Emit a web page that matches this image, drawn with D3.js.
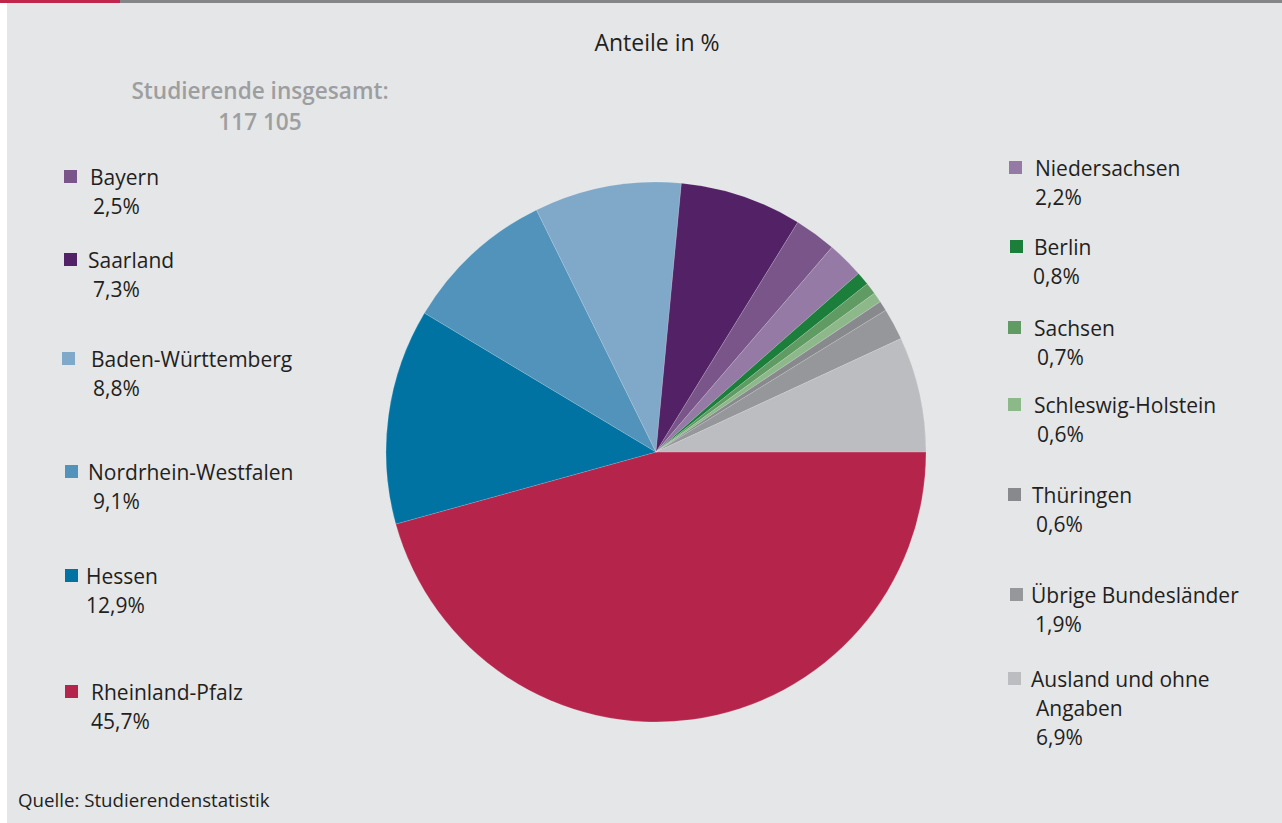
<!DOCTYPE html>
<meta charset="utf-8">
<html>
<style>
  body { margin: 0; background: #fff; }
  svg { display: block; }
  .lbl { font-family: "Open Sans", sans-serif; font-size: 21px; fill: #231f20; }
</style>
<body>
<svg width="1282" height="823"></svg>
<script src="https://d3js.org/d3.v7.min.js"></script>
<script>

// data, clockwise from 3 o'clock
var states = ["Rheinland-Pfalz", "Hessen", "Nordrhein-Westfalen", "Baden-Württemberg", "Saarland", "Bayern",
              "Niedersachsen", "Berlin", "Sachsen", "Schleswig-Holstein", "Thüringen", "Übrige Bundesländer", "Ausland und ohne Angaben"];
var shares = [45.7, 12.9, 9.1, 8.8, 7.3, 2.5, 2.2, 0.8, 0.7, 0.6, 0.6, 1.9, 6.9];
var colors = ["#b5244a", "#0073a3", "#5193ba", "#7fa8c9", "#532166", "#7a5589",
              "#957aa6", "#1b7e3a", "#5f9b62", "#8db88a", "#88898c", "#96979a", "#bcbdc0"];

var total = "117 105";

// legend layout (index into states, x of square, text x, value x, y)
var leftLegend = [
  {i: 5, sx: 64, tx: 90, vx: 93, y: 177},
  {i: 4, sx: 64, tx: 88, vx: 93, y: 260},
  {i: 3, sx: 62, tx: 91, vx: 93, y: 359},
  {i: 2, sx: 65, tx: 88, vx: 93, y: 472},
  {i: 1, sx: 65, tx: 86, vx: 86, y: 576},
  {i: 0, sx: 65, tx: 91, vx: 91, y: 692}
];
var rightLegend = [
  {i: 6, sx: 1009, tx: 1035, vx: 1035, y: 168},
  {i: 7, sx: 1010, tx: 1034, vx: 1033, y: 247},
  {i: 8, sx: 1008, tx: 1034, vx: 1037, y: 328},
  {i: 9, sx: 1008, tx: 1034, vx: 1037, y: 405},
  {i: 10, sx: 1008, tx: 1032, vx: 1036, y: 495},
  {i: 11, sx: 1010, tx: 1031, vx: 1035, y: 595},
  {i: 12, sx: 1008, tx: 1031, vx: 1036, y: 679, lines: ["Ausland und ohne", "Angaben"]}
];

var svg = d3.select("svg");

// panel
svg.append("rect").attr("x", 7).attr("y", 0).attr("width", 1275).attr("height", 823).attr("fill", "#e5e6e8");
svg.append("rect").attr("x", 0).attr("y", 0).attr("width", 1282).attr("height", 3).attr("fill", "#858688");
svg.append("rect").attr("x", 0).attr("y", 0).attr("width", 120).attr("height", 3).attr("fill", "#c0264c");

svg.append("text").attr("class", "lbl")
    .attr("x", 657).attr("y", 51).attr("text-anchor", "middle")
    .style("font-size", "23px")
    .text("Anteile in %");

var tot = svg.append("text").attr("text-anchor", "middle")
    .style("font-family", "'Open Sans', sans-serif").style("font-size", "22.6px")
    .style("font-weight", 600).attr("fill", "#9d9ea0");
tot.append("tspan").attr("x", 260).attr("y", 99).text("Studierende insgesamt:");
tot.append("tspan").attr("x", 260).attr("y", 130).text(total);

// pie
var cx = 656, cy = 452, r = 270;
var pie = d3.pie().sort(null).value(function(d) { return d; })
    .startAngle(Math.PI / 2).endAngle(Math.PI / 2 + 2 * Math.PI);
var arc = d3.arc().innerRadius(0).outerRadius(r);

svg.append("g").attr("transform", "translate(" + cx + "," + cy + ")")
  .selectAll("path")
  .data(pie(shares))
  .enter().append("path")
    .attr("d", arc)
    .attr("fill", function(d, i) { return colors[i]; })
    .attr("stroke", "rgba(255,255,255,0.25)")
    .attr("stroke-width", 0.6);

function fmt(v) { return d3.format(".1f")(v).replace(".", ",") + "%"; }

function drawLegend(items) {
  items.forEach(function(d) {
    svg.append("rect")
        .attr("x", d.sx).attr("y", d.y - 7).attr("width", 13).attr("height", 13)
        .attr("fill", colors[d.i]);
    var lines = d.lines || [states[d.i]];
    lines.forEach(function(t, k) {
      svg.append("text").attr("class", "lbl")
          .attr("x", k === 0 ? d.tx : d.vx).attr("y", d.y + 8 + k * 29)
          .text(t);
    });
    svg.append("text").attr("class", "lbl")
        .attr("x", d.vx).attr("y", d.y + 8 + lines.length * 29)
        .text(fmt(shares[d.i]));
  });
}
drawLegend(leftLegend);
drawLegend(rightLegend);

svg.append("text").attr("class", "lbl")
    .attr("x", 18).attr("y", 807).style("font-size", "18.7px")
    .text("Quelle: Studierendenstatistik");

</script>
</body>
</html>
